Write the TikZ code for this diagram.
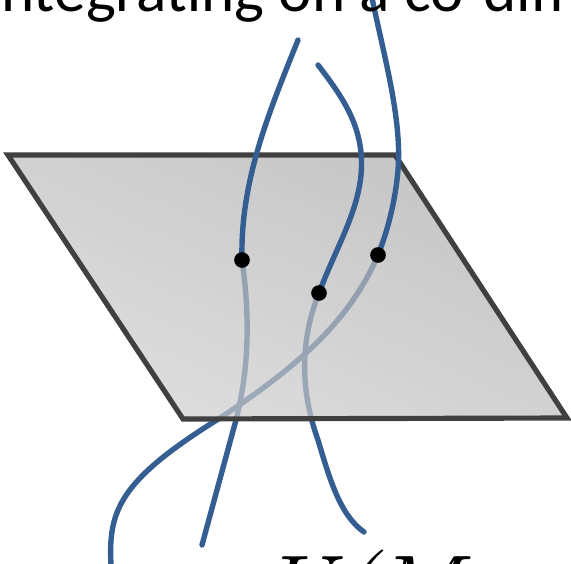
\documentclass[tikz,border=0pt]{standalone}
\usepackage{fontspec}
\usepackage{xcolor}
\usepackage{tikz}
\newfontfamily\slidefont{Carlito}
\definecolor{strandblue}{RGB}{52,94,145}
\definecolor{edgegray}{RGB}{64,64,64}
\definecolor{planetop}{RGB}{172,172,172}
\definecolor{planebot}{RGB}{208,208,208}

\begin{document}
\begin{tikzpicture}[
  x=0.03cm, y=-0.03cm,
  strand/.style={draw=strandblue, line width=4.6pt, line cap=round},
  plane/.style={top color=planetop, bottom color=planebot, shading angle=-25,
                fill opacity=0.7},
  rim/.style={draw=edgegray, line width=4.4pt, line join=miter},
  dot/.style={circle, fill=black, inner sep=0pt, minimum size=0.47cm},
  semithick
]
  \useasboundingbox (0,0) rectangle (571,563);
  \clip (0,0) rectangle (571,563);

  % corners of the plane
  \coordinate (nw) at (8,155);
  \coordinate (ne) at (395,155);
  \coordinate (se) at (567,418);
  \coordinate (sw) at (183,419);

  % strand ends and crossing points
  \coordinate (aTop) at (298,40);
  \coordinate (bTop) at (318,65);
  \coordinate (cTop) at (372,-2);
  \coordinate (pA)   at (242,260);
  \coordinate (pB)   at (319,293);
  \coordinate (pC)   at (378,255);
  \coordinate (aEnd) at (202,545);
  \coordinate (bEnd) at (364,532);
  \coordinate (cEnd) at (111,565);

  % parts behind the plane
  \draw[strand] (pA) .. controls (252,330) and (246,380) .. (236,420) -- (aEnd);
  \draw[strand] (pB) .. controls (300,340) and (300,390) .. (318,440)
                     .. controls (330,480) and (340,515) .. (bEnd);
  \draw[strand] (pC) .. controls (350,320) and (300,365) .. (220,418)
                     .. controls (120,480) and (108,510) .. (cEnd);

  \shade[plane] (nw) -- (ne) -- (se) -- (sw) -- cycle;
  \draw[rim] (nw) -- (ne) -- (se) -- (sw) -- cycle;

  % parts in front of the plane
  \draw[strand] (aTop) .. controls (270,110) and (240,180) .. (pA);
  \draw[strand] (bTop) .. controls (345,100) and (365,130) .. (361,175)
                       .. controls (357,215) and (335,250) .. (pB);
  \draw[strand] (cTop) .. controls (385,60) and (402,120) .. (398,170)
                       .. controls (395,205) and (386,235) .. (pC);

  \node[dot] (dotA) at (pA) {};
  \node[dot] (dotB) at (pB) {};
  \node[dot] (dotC) at (pC) {};

  \node[anchor=base west, inner sep=0pt, font=\slidefont\fontsize{54}{60}\selectfont]
    (title) at (1,12) {ntegrating on a co-dim};
  \node[anchor=base west, inner sep=0pt, font=\fontsize{86}{94}\selectfont\itshape]
    (space) at (259,625) {U(M};
\end{tikzpicture}
\end{document}
